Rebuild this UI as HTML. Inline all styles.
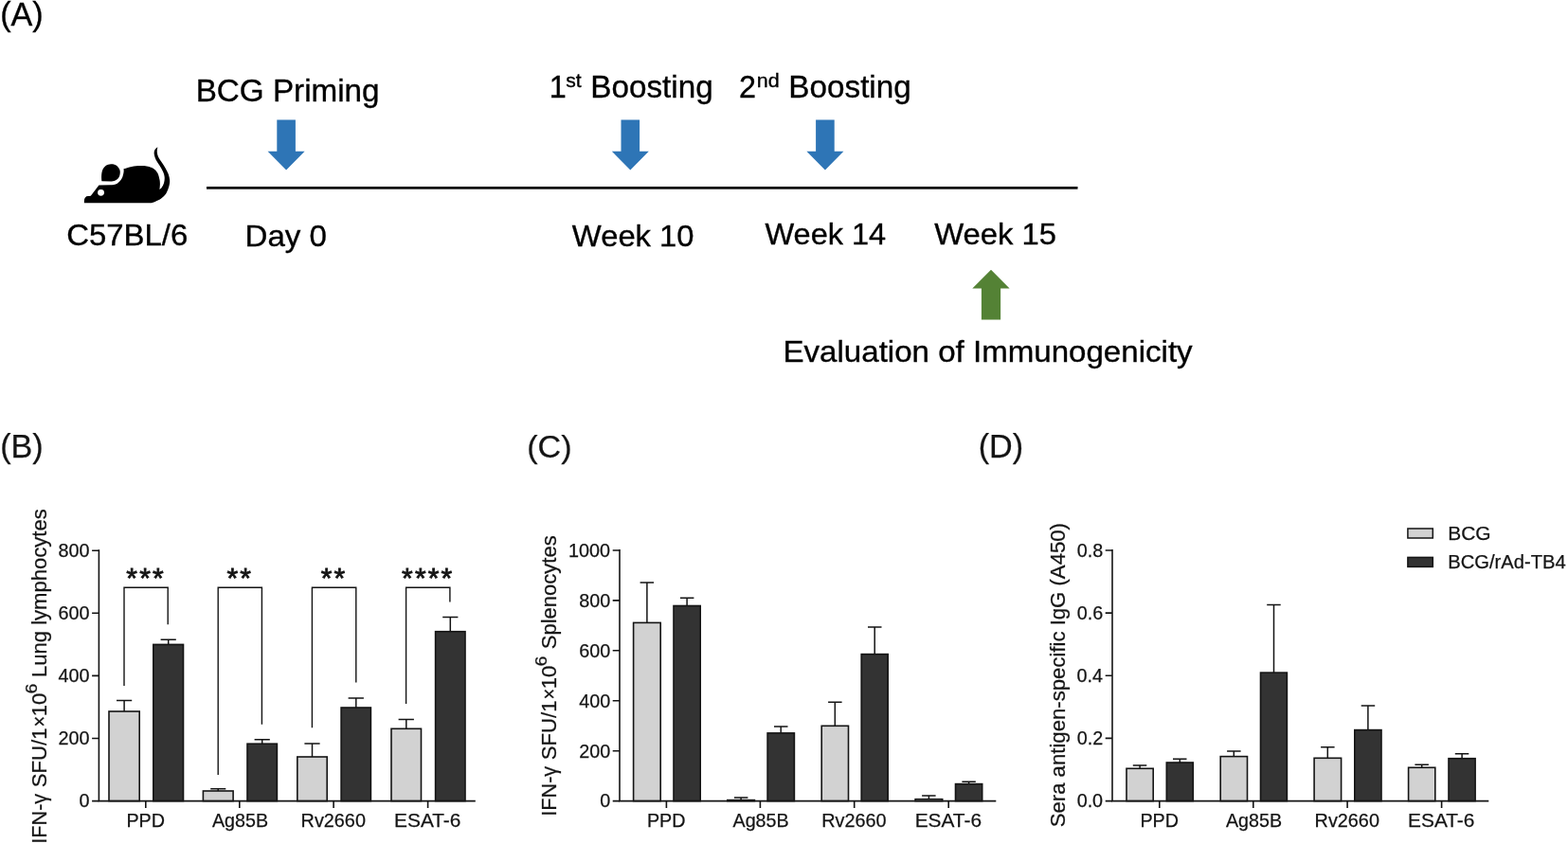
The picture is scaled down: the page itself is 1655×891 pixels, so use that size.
<!DOCTYPE html>
<html lang="en"><head><meta charset="utf-8"><title>Figure</title>
<style>
html,body{margin:0;padding:0;background:#fff;}
body{width:1655px;height:891px;overflow:hidden;}
svg{display:block;font-family:"Liberation Sans",Arial,Helvetica,sans-serif;fill:#141414;}
#panelB text,#panelC text,#panelD text{stroke:#141414;stroke-width:0.25px;}
</style></head><body>
<svg width="1655" height="891" viewBox="0 0 1655 891">
<rect width="1655" height="891" fill="#fff"/>
<g id="panelA" fill="#000" stroke="#000" stroke-width="0.35">
<text x="0.18" y="26.50" font-size="34.16" textLength="45.54" lengthAdjust="spacingAndGlyphs">(A)</text>
<text x="206.68" y="106.60" font-size="32.3" textLength="193.87" lengthAdjust="spacingAndGlyphs">BCG Priming</text>
<text x="70.15" y="258.70" font-size="32.02" textLength="128.18" lengthAdjust="spacingAndGlyphs">C57BL/6</text>
<text x="258.49" y="260.20" font-size="32.18" textLength="86.48" lengthAdjust="spacingAndGlyphs">Day 0</text>
<text x="579.65" y="102.50" font-size="32.3">1</text>
<text x="597.23" y="91.60" font-size="20.51" textLength="16.41" lengthAdjust="spacingAndGlyphs">st</text>
<text x="623.38" y="102.50" font-size="32.29" textLength="129.27" lengthAdjust="spacingAndGlyphs">Boosting</text>
<text x="779.88" y="102.50" font-size="32.3">2</text>
<text x="798.88" y="91.60" font-size="20.89" textLength="23.90" lengthAdjust="spacingAndGlyphs">nd</text>
<text x="832.37" y="102.50" font-size="32.31" textLength="129.37" lengthAdjust="spacingAndGlyphs">Boosting</text>
<text x="603.87" y="260.10" font-size="31.84" textLength="128.68" lengthAdjust="spacingAndGlyphs">Week 10</text>
<text x="807.47" y="258.20" font-size="31.59" textLength="127.68" lengthAdjust="spacingAndGlyphs">Week 14</text>
<text x="986.27" y="257.50" font-size="31.87" textLength="128.78" lengthAdjust="spacingAndGlyphs">Week 15</text>
<text x="826.49" y="382.20" font-size="32.16" textLength="432.16" lengthAdjust="spacingAndGlyphs">Evaluation of Immunogenicity</text>
</g><g>
<rect x="218" y="197" width="919.5" height="2.7" fill="#000" stroke="none"/>
<path d="M292.3 126.4H311.9V159.8H321.6L302.1 179.4L282.6 159.8H292.3Z" fill="#2e75b6" stroke="none"/>
<path d="M655.5 126.4H675.1V159.8H684.8L665.3 179.4L645.8 159.8H655.5Z" fill="#2e75b6" stroke="none"/>
<path d="M861.1 126.4H880.7V159.8H890.4L870.9 179.4L851.4 159.8H861.1Z" fill="#2e75b6" stroke="none"/>
<path d="M1046 284.7L1065.6 304.4H1056.1V337.4H1035.9V304.4H1026.3Z" fill="#548235" stroke="none"/>
<g transform="translate(80,145) scale(0.08417)" stroke="none">
<path d="M105 822C106 814 104 788 108 775C112 762 119 751 128 745C137 739 150 740 160 738C170 736 183 735 188 734L290 600L440 598C453 595 497 592 520 578C543 564 565 538 578 515C591 492 596 460 600 440C604 420 600 402 600 395C617 390 666 374 700 367C734 360 774 357 806 356C838 355 867 357 890 361C913 365 929 370 946 378C963 386 979 394 993 406C1007 418 1018 432 1028 452C1038 472 1045 504 1050 526C1055 548 1056 564 1056 585C1056 606 1052 642 1051 653C1055 649 1068 642 1077 629C1086 616 1099 595 1105 573C1111 551 1115 523 1113 498C1111 473 1102 449 1091 424C1080 399 1063 372 1049 349C1035 326 1018 306 1007 284C996 262 987 238 984 218C981 198 981 178 988 162C995 146 1020 130 1026 123C1025 133 1018 160 1019 181C1020 202 1025 224 1035 246C1045 268 1062 289 1077 312C1092 335 1110 361 1124 386C1138 411 1152 436 1161 461C1170 486 1176 511 1178 536C1180 561 1178 582 1170 610C1162 638 1150 678 1133 704C1116 730 1091 752 1068 769C1045 786 1013 798 993 807C973 816 957 820 950 822Z" fill="#000"/>
<path d="M325 550C324 538 320 503 322 480C324 457 326 431 335 410C344 389 358 368 375 355C392 342 418 336 440 335C462 334 487 339 505 350C523 361 540 383 548 400C556 417 557 432 555 450C553 468 548 490 538 505C528 520 511 532 495 540C479 548 449 550 440 552Z" fill="#000"/>
<circle cx="315" cy="693" r="41" fill="#fff"/>
</g>
</g>
<g id="panelB">
<text x="0.18" y="482.90" font-size="34.16" textLength="45.54" lengthAdjust="spacingAndGlyphs">(B)</text>
<path d="M131.1 751.2V739.6M123.0 739.6H139.2" stroke="#141414" stroke-width="1.5" fill="none"/>
<rect x="115.00" y="751.00" width="32.20" height="94.60" fill="#d2d2d2" stroke="#141414" stroke-width="1.6"/>
<path d="M177.7 680.6V675.3M169.6 675.3H185.8" stroke="#141414" stroke-width="1.5" fill="none"/>
<rect x="161.80" y="680.40" width="31.70" height="165.20" fill="#333333" stroke="#141414" stroke-width="1.6"/>
<path d="M230.2 835.2V832.8M222.2 832.8H238.3" stroke="#141414" stroke-width="1.5" fill="none"/>
<rect x="214.40" y="835.00" width="31.70" height="10.60" fill="#d2d2d2" stroke="#141414" stroke-width="1.6"/>
<path d="M276.7 785.4V780.8M268.6 780.8H284.8" stroke="#141414" stroke-width="1.5" fill="none"/>
<rect x="261.00" y="785.20" width="31.40" height="60.40" fill="#333333" stroke="#141414" stroke-width="1.6"/>
<path d="M329.5 799.2V784.9M321.4 784.9H337.6" stroke="#141414" stroke-width="1.5" fill="none"/>
<rect x="313.80" y="799.00" width="31.40" height="46.60" fill="#d2d2d2" stroke="#141414" stroke-width="1.6"/>
<path d="M375.8 747.2V737.0M367.6 737.0H383.9" stroke="#141414" stroke-width="1.5" fill="none"/>
<rect x="360.10" y="747.00" width="31.30" height="98.60" fill="#333333" stroke="#141414" stroke-width="1.6"/>
<path d="M428.8 769.5V759.6M420.6 759.6H436.9" stroke="#141414" stroke-width="1.5" fill="none"/>
<rect x="413.00" y="769.30" width="31.50" height="76.30" fill="#d2d2d2" stroke="#141414" stroke-width="1.6"/>
<path d="M475.3 666.9V651.4M467.2 651.4H483.4" stroke="#141414" stroke-width="1.5" fill="none"/>
<rect x="459.60" y="666.70" width="31.40" height="178.90" fill="#333333" stroke="#141414" stroke-width="1.6"/>
<path d="M104.4 580.3V846.5M103.5 845.6H501.8" stroke="#141414" stroke-width="1.6" fill="none"/>
<text x="61.53" y="588.00" font-size="19.8">800</text>
<text x="61.53" y="654.10" font-size="19.8">600</text>
<text x="61.53" y="720.20" font-size="19.8">400</text>
<text x="61.53" y="786.30" font-size="19.8">200</text>
<text x="83.54" y="852.40" font-size="19.8">0</text>
<path d="M97.1 581.2H104.4M97.1 647.3H104.4M97.1 713.4H104.4M97.1 779.5H104.4M97.1 845.6H104.4M153.8 845.6V853.0M252.8 845.6V853.0M352.1 845.6V853.0M451.6 845.6V853.0" stroke="#141414" stroke-width="1.6" fill="none"/>
<text x="133.38" y="873.30" font-size="19.8" textLength="40.55" lengthAdjust="spacingAndGlyphs">PPD</text>
<text x="223.96" y="873.30" font-size="19.8" textLength="59.07" lengthAdjust="spacingAndGlyphs">Ag85B</text>
<text x="317.57" y="873.30" font-size="19.8" textLength="68.38" lengthAdjust="spacingAndGlyphs">Rv2660</text>
<text x="416.09" y="873.30" font-size="19.8" textLength="70.32" lengthAdjust="spacingAndGlyphs">ESAT-6</text>
<path d="M131.0 723.9V620.3H177.2V659.3" stroke="#141414" stroke-width="1.4" fill="none"/>
<text x="133.35 147.15 160.95" y="619.8" font-size="30" style="stroke:#141414;stroke-width:0.8px">***</text>
<path d="M230.2 818.0V620.3H276.4V764.8" stroke="#141414" stroke-width="1.4" fill="none"/>
<text x="239.45 253.25" y="619.8" font-size="30" style="stroke:#141414;stroke-width:0.8px">**</text>
<path d="M329.4 768.2V620.3H375.8V720.6" stroke="#141414" stroke-width="1.4" fill="none"/>
<text x="338.75 352.55" y="619.8" font-size="30" style="stroke:#141414;stroke-width:0.8px">**</text>
<path d="M428.6 742.9V620.3H474.9V635.5" stroke="#141414" stroke-width="1.4" fill="none"/>
<text x="424.10 437.90 451.70 465.50" y="619.8" font-size="30" style="stroke:#141414;stroke-width:0.8px">****</text>
<g transform="translate(48.7,891) rotate(-90)">
<text x="0.31" y="0.00" font-size="22.15" textLength="52.85" lengthAdjust="spacingAndGlyphs">IFN-γ</text>
<text x="59.80" y="0.00" font-size="22.15">SFU/1</text>
<text x="123.53" y="0.00" font-size="22.15" textLength="11.63" lengthAdjust="spacingAndGlyphs">×</text>
<text x="134.71" y="0.00" font-size="22.15">10</text>
<text x="158.74" y="-10.20" font-size="16.5" textLength="10.69" lengthAdjust="spacingAndGlyphs">6</text>
<text x="175.99" y="0.00" font-size="22.15" textLength="177.70" lengthAdjust="spacingAndGlyphs">Lung lymphocytes</text>
</g>
</g>
<g id="panelC">
<text x="556.19" y="482.90" font-size="34.1" textLength="47.34" lengthAdjust="spacingAndGlyphs">(C)</text>
<path d="M682.9 657.6V615.0M675.6 615.0H690.1" stroke="#141414" stroke-width="1.5" fill="none"/>
<rect x="668.60" y="657.40" width="28.60" height="188.20" fill="#d2d2d2" stroke="#141414" stroke-width="1.6"/>
<path d="M725.1 639.7V631.3M717.9 631.3H732.4" stroke="#141414" stroke-width="1.5" fill="none"/>
<rect x="711.00" y="639.50" width="28.20" height="206.10" fill="#333333" stroke="#141414" stroke-width="1.6"/>
<path d="M782.1 844.8V842.0M774.9 842.0H789.4" stroke="#141414" stroke-width="1.5" fill="none"/>
<rect x="767.80" y="844.60" width="28.60" height="1.00" fill="#d2d2d2" stroke="#141414" stroke-width="1.6"/>
<path d="M824.2 774.1V766.9M817.0 766.9H831.5" stroke="#141414" stroke-width="1.5" fill="none"/>
<rect x="810.10" y="773.90" width="28.30" height="71.70" fill="#333333" stroke="#141414" stroke-width="1.6"/>
<path d="M881.3 766.5V741.3M874.1 741.3H888.6" stroke="#141414" stroke-width="1.5" fill="none"/>
<rect x="867.20" y="766.30" width="28.30" height="79.30" fill="#d2d2d2" stroke="#141414" stroke-width="1.6"/>
<path d="M923.2 690.8V662.0M916.0 662.0H930.5" stroke="#141414" stroke-width="1.5" fill="none"/>
<rect x="909.20" y="690.60" width="28.00" height="155.00" fill="#333333" stroke="#141414" stroke-width="1.6"/>
<path d="M980.4 843.9V839.9M973.1 839.9H987.6" stroke="#141414" stroke-width="1.5" fill="none"/>
<rect x="966.10" y="843.70" width="28.60" height="1.90" fill="#d2d2d2" stroke="#141414" stroke-width="1.6"/>
<path d="M1022.6 827.8V825.3M1015.4 825.3H1029.8" stroke="#141414" stroke-width="1.5" fill="none"/>
<rect x="1008.50" y="827.60" width="28.20" height="18.00" fill="#333333" stroke="#141414" stroke-width="1.6"/>
<path d="M654.0 580.1V846.5M653.1 845.6H1051.3" stroke="#141414" stroke-width="1.6" fill="none"/>
<text x="600.12" y="587.80" font-size="19.8">1000</text>
<text x="611.13" y="640.70" font-size="19.8">800</text>
<text x="611.13" y="693.60" font-size="19.8">600</text>
<text x="611.13" y="746.60" font-size="19.8">400</text>
<text x="611.13" y="799.50" font-size="19.8">200</text>
<text x="633.14" y="852.40" font-size="19.8">0</text>
<path d="M646.7 581.0H654.0M646.7 633.9H654.0M646.7 686.8H654.0M646.7 739.8H654.0M646.7 792.7H654.0M646.7 845.6H654.0M703.4 845.6V853.0M802.4 845.6V853.0M901.7 845.6V853.0M1001.2 845.6V853.0" stroke="#141414" stroke-width="1.6" fill="none"/>
<text x="682.98" y="873.30" font-size="19.8" textLength="40.55" lengthAdjust="spacingAndGlyphs">PPD</text>
<text x="773.56" y="873.30" font-size="19.8" textLength="59.07" lengthAdjust="spacingAndGlyphs">Ag85B</text>
<text x="867.17" y="873.30" font-size="19.8" textLength="68.38" lengthAdjust="spacingAndGlyphs">Rv2660</text>
<text x="965.69" y="873.30" font-size="19.8" textLength="70.32" lengthAdjust="spacingAndGlyphs">ESAT-6</text>
<g transform="translate(587.3,891) rotate(-90)">
<text x="29.31" y="0.00" font-size="22.15" textLength="52.85" lengthAdjust="spacingAndGlyphs">IFN-γ</text>
<text x="88.80" y="0.00" font-size="22.15">SFU/1</text>
<text x="152.53" y="0.00" font-size="22.15" textLength="11.63" lengthAdjust="spacingAndGlyphs">×</text>
<text x="163.71" y="0.00" font-size="22.15">10</text>
<text x="187.74" y="-10.20" font-size="16.5" textLength="10.69" lengthAdjust="spacingAndGlyphs">6</text>
<text x="205.81" y="0.00" font-size="22.15" textLength="119.88" lengthAdjust="spacingAndGlyphs">Splenocytes</text>
</g>
</g>
<g id="panelD">
<text x="1032.68" y="482.90" font-size="34.18" textLength="47.44" lengthAdjust="spacingAndGlyphs">(D)</text>
<path d="M1203.1 811.5V807.9M1195.8 807.9H1210.3" stroke="#141414" stroke-width="1.5" fill="none"/>
<rect x="1189.00" y="811.30" width="28.20" height="34.30" fill="#d2d2d2" stroke="#141414" stroke-width="1.6"/>
<path d="M1245.3 805.2V801.2M1238.0 801.2H1252.5" stroke="#141414" stroke-width="1.5" fill="none"/>
<rect x="1231.30" y="805.00" width="28.00" height="40.60" fill="#333333" stroke="#141414" stroke-width="1.6"/>
<path d="M1302.3 798.8V793.0M1295.1 793.0H1309.6" stroke="#141414" stroke-width="1.5" fill="none"/>
<rect x="1288.20" y="798.60" width="28.30" height="47.00" fill="#d2d2d2" stroke="#141414" stroke-width="1.6"/>
<path d="M1344.5 710.3V638.5M1337.2 638.5H1351.7" stroke="#141414" stroke-width="1.5" fill="none"/>
<rect x="1330.50" y="710.10" width="27.90" height="135.50" fill="#333333" stroke="#141414" stroke-width="1.6"/>
<path d="M1401.3 800.5V788.7M1394.1 788.7H1408.6" stroke="#141414" stroke-width="1.5" fill="none"/>
<rect x="1387.10" y="800.30" width="28.50" height="45.30" fill="#d2d2d2" stroke="#141414" stroke-width="1.6"/>
<path d="M1443.9 770.8V744.9M1436.7 744.9H1451.2" stroke="#141414" stroke-width="1.5" fill="none"/>
<rect x="1429.80" y="770.60" width="28.20" height="75.00" fill="#333333" stroke="#141414" stroke-width="1.6"/>
<path d="M1500.7 810.5V807.3M1493.4 807.3H1507.9" stroke="#141414" stroke-width="1.5" fill="none"/>
<rect x="1486.60" y="810.30" width="28.20" height="35.30" fill="#d2d2d2" stroke="#141414" stroke-width="1.6"/>
<path d="M1543.1 800.9V795.8M1535.8 795.8H1550.3" stroke="#141414" stroke-width="1.5" fill="none"/>
<rect x="1529.00" y="800.70" width="28.10" height="44.90" fill="#333333" stroke="#141414" stroke-width="1.6"/>
<path d="M1174.0 580.1V846.5M1173.1 845.6H1571.3" stroke="#141414" stroke-width="1.6" fill="none"/>
<text x="1136.73" y="587.80" font-size="19.8">0.8</text>
<text x="1136.73" y="653.90" font-size="19.8">0.6</text>
<text x="1136.45" y="720.10" font-size="19.8">0.4</text>
<text x="1136.87" y="786.20" font-size="19.8">0.2</text>
<text x="1136.63" y="852.40" font-size="19.8">0.0</text>
<path d="M1166.7 581.0H1174.0M1166.7 647.1H1174.0M1166.7 713.3H1174.0M1166.7 779.4H1174.0M1166.7 845.6H1174.0M1223.8 845.6V853.0M1322.8 845.6V853.0M1422.1 845.6V853.0M1521.6 845.6V853.0" stroke="#141414" stroke-width="1.6" fill="none"/>
<text x="1203.38" y="873.30" font-size="19.8" textLength="40.55" lengthAdjust="spacingAndGlyphs">PPD</text>
<text x="1293.96" y="873.30" font-size="19.8" textLength="59.07" lengthAdjust="spacingAndGlyphs">Ag85B</text>
<text x="1387.57" y="873.30" font-size="19.8" textLength="68.38" lengthAdjust="spacingAndGlyphs">Rv2660</text>
<text x="1486.09" y="873.30" font-size="19.8" textLength="70.32" lengthAdjust="spacingAndGlyphs">ESAT-6</text>
<g transform="translate(1123.5,891) rotate(-90)">
<text x="17.70" y="0.00" font-size="22.15" textLength="321.28" lengthAdjust="spacingAndGlyphs">Sera antigen-specific IgG (A450)</text>
</g>
<rect x="1485.9" y="558.0" width="26.4" height="10.0" fill="#d2d2d2" stroke="#141414" stroke-width="1.5"/>
<rect x="1485.9" y="588.4" width="26.4" height="10.0" fill="#333333" stroke="#141414" stroke-width="1.5"/>
<text x="1528.18" y="569.50" font-size="19.5" textLength="45.37" lengthAdjust="spacingAndGlyphs">BCG</text>
<text x="1528.24" y="599.80" font-size="19.5" textLength="124.54" lengthAdjust="spacingAndGlyphs">BCG/rAd-TB4</text>
</g>
</svg>
</body></html>
